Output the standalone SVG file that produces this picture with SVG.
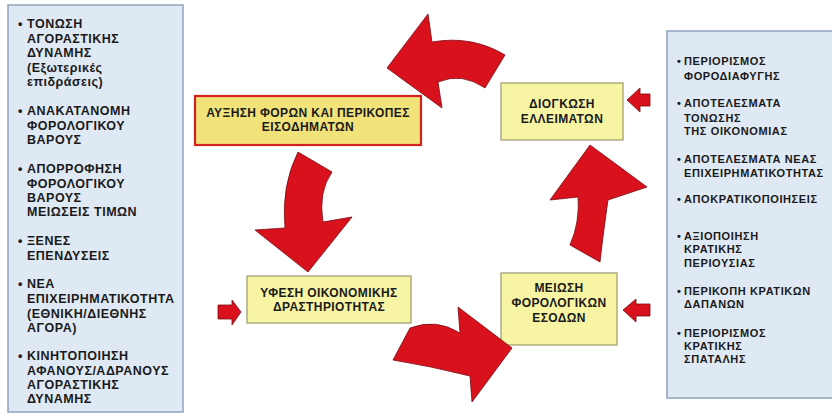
<svg xmlns="http://www.w3.org/2000/svg" width="832" height="418" viewBox="0 0 832 418">
<style>
.panel{fill:#dfe9f4;stroke:#8ea3bd;stroke-width:1.5}
.lt{font-family:"Liberation Sans",Arial,sans-serif;font-weight:bold;font-size:12.5px;letter-spacing:0.5px;fill:#1a1a1a}
.rt{font-family:"Liberation Sans",Arial,sans-serif;font-weight:bold;font-size:11px;letter-spacing:0.6px;fill:#1a1a1a}
.bt{font-family:"Liberation Sans",Arial,sans-serif;font-weight:bold;font-size:12px;letter-spacing:0.4px;fill:#1a1a1a;text-anchor:middle}
.box{fill:#f7f5a3;stroke:#9a9a6a;stroke-width:1.2}
.box1{fill:#f1e27a;stroke:#d4201e;stroke-width:2.2}
.arr{fill:#d8111d;stroke:#7a0a12;stroke-width:0.8;stroke-linejoin:round}
</style>
<rect width="832" height="418" fill="#ffffff"/>
<g id="left-panel">
<rect class="panel" x="8" y="5" width="175" height="407"/>
<g class="lt">
<text x="18" y="28">•</text>
<text x="27" y="28">ΤΟΝΩΣΗ</text>
<text x="27" y="43">ΑΓΟΡΑΣΤΙΚΗΣ</text>
<text x="27" y="57">ΔΥΝΑΜΗΣ</text>
<text x="27" y="72">(Εξωτερικές</text>
<text x="27" y="86">επιδράσεις)</text>
<text x="18" y="115">•</text>
<text x="27" y="115">ΑΝΑΚΑΤΑΝΟΜΗ</text>
<text x="27" y="130">ΦΟΡΟΛΟΓΙΚΟΥ</text>
<text x="27" y="144">ΒΑΡΟΥΣ</text>
<text x="18" y="173">•</text>
<text x="27" y="173">ΑΠΟΡΡΟΦΗΣΗ</text>
<text x="27" y="188">ΦΟΡΟΛΟΓΙΚΟΥ</text>
<text x="27" y="202">ΒΑΡΟΥΣ</text>
<text x="27" y="216">ΜΕΙΩΣΕΙΣ ΤΙΜΩΝ</text>
<text x="18" y="245">•</text>
<text x="27" y="245">ΞΕΝΕΣ</text>
<text x="27" y="260">ΕΠΕΝΔΥΣΕΙΣ</text>
<text x="18" y="288">•</text>
<text x="27" y="288">ΝΕΑ</text>
<text x="27" y="303">ΕΠΙΧΕΙΡΗΜΑΤΙΚΟΤΗΤΑ</text>
<text x="27" y="318">(ΕΘΝΙΚΗ/ΔΙΕΘΝΗΣ</text>
<text x="27" y="332">ΑΓΟΡΑ)</text>
<text x="18" y="360">•</text>
<text x="27" y="360">ΚΙΝΗΤΟΠΟΙΗΣΗ</text>
<text x="27" y="375">ΑΦΑΝΟΥΣ/ΑΔΡΑΝΟΥΣ</text>
<text x="27" y="389">ΑΓΟΡΑΣΤΙΚΗΣ</text>
<text x="27" y="403">ΔΥΝΑΜΗΣ</text>
</g>
</g>
<g id="right-panel">
<rect class="panel" x="667" y="31" width="175" height="367"/>
<g class="rt">
<text x="677" y="65">•</text>
<text x="684" y="65">ΠΕΡΙΟΡΙΣΜΟΣ</text>
<text x="684" y="80">ΦΟΡΟΔΙΑΦΥΓΗΣ</text>
<text x="677" y="107">•</text>
<text x="684" y="107">ΑΠΟΤΕΛΕΣΜΑΤΑ</text>
<text x="684" y="122">ΤΟΝΩΣΗΣ</text>
<text x="684" y="135">ΤΗΣ ΟΙΚΟΝΟΜΙΑΣ</text>
<text x="677" y="163">•</text>
<text x="684" y="163">ΑΠΟΤΕΛΕΣΜΑΤΑ ΝΕΑΣ</text>
<text x="684" y="177">ΕΠΙΧΕΙΡΗΜΑΤΙΚΟΤΗΤΑΣ</text>
<text x="677" y="203">•</text>
<text x="684" y="203">ΑΠΟΚΡΑΤΙΚΟΠΟΙΗΣΕΙΣ</text>
<text x="677" y="240">•</text>
<text x="684" y="240">ΑΞΙΟΠΟΙΗΣΗ</text>
<text x="684" y="253">ΚΡΑΤΙΚΗΣ</text>
<text x="684" y="267">ΠΕΡΙΟΥΣΙΑΣ</text>
<text x="677" y="295">•</text>
<text x="684" y="295">ΠΕΡΙΚΟΠΗ ΚΡΑΤΙΚΩΝ</text>
<text x="684" y="308">ΔΑΠΑΝΩΝ</text>
<text x="677" y="337">•</text>
<text x="684" y="337">ΠΕΡΙΟΡΙΣΜΟΣ</text>
<text x="684" y="350">ΚΡΑΤΙΚΗΣ</text>
<text x="684" y="363">ΣΠΑΤΑΛΗΣ</text>
</g>
</g>
<g id="node-auxisi">
<rect class="box1" x="195" y="96" width="226" height="49"/>
<text class="bt" x="308" y="117">ΑΥΞΗΣΗ ΦΟΡΩΝ ΚΑΙ ΠΕΡΙΚΟΠΕΣ</text>
<text class="bt" x="308" y="131">ΕΙΣΟΔΗΜΑΤΩΝ</text>
</g>
<g id="node-diogkosi">
<rect class="box" x="501" y="83" width="122" height="57"/>
<text class="bt" x="562" y="108">ΔΙΟΓΚΩΣΗ</text>
<text class="bt" x="562" y="123">ΕΛΛΕΙΜΑΤΩΝ</text>
</g>
<g id="node-yfesi">
<rect class="box" x="247" y="276" width="164" height="47"/>
<text class="bt" x="329" y="297">ΥΦΕΣΗ ΟΙΚΟΝΟΜΙΚΗΣ</text>
<text class="bt" x="329" y="311">ΔΡΑΣΤΗΡΙΟΤΗΤΑΣ</text>
</g>
<g id="node-meiosi">
<rect class="box" x="501" y="273" width="116" height="72"/>
<text class="bt" x="559" y="292">ΜΕΙΩΣΗ</text>
<text class="bt" x="559" y="307">ΦΟΡΟΛΟΓΙΚΩΝ</text>
<text class="bt" x="559" y="322">ΕΣΟΔΩΝ</text>
</g>
<g id="connectors">
<path class="arr" d="M387,68 L428,14 L432,42 Q472,35 505,55 L485,88 Q462,72 438,82 L442,108 Z"/>
<path class="arr" d="M298,152 L332,172 Q318,192 323,222 L352,217 L308,272 L255,230 L285,228 Q281,186 298,152 Z"/>
<path class="arr" d="M410,328 Q436,318 460,333 L458,307 L512,348 L472,402 L470,376 Q430,366 393,360 Z"/>
<path class="arr" d="M590,145 L647,187 L608,200 Q603,235 600,262 L570,245 Q580,222 578,197 L550,200 Z"/>
<path class="arr" d="M627,100 L640,88 L640,94 L650,94 L650,106 L640,106 L640,112 Z"/>
<path class="arr" d="M218,305 L232,305 L232,300 L241,312 L232,325 L232,319 L218,319 Z"/>
<path class="arr" d="M623,310 L636,299 L636,304 L650,304 L650,316 L636,316 L636,322 Z"/>
</g>
</svg>
